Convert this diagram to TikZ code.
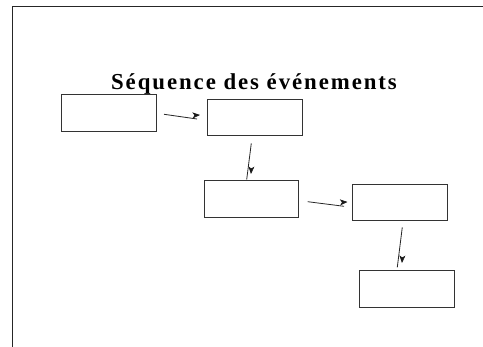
\documentclass[tikz,border=0pt]{standalone}
\usepackage{fontspec}
\setmainfont{Liberation Serif}
\usetikzlibrary{arrows.meta,calc}
\tikzset{
  evbox/.style={draw=black!80, line width=0.8pt, minimum width=95pt, minimum height=37pt, inner sep=0pt, anchor=north west},
  frameline/.style={draw=black!85, line width=1pt},
  conn/.style={draw=black!85, line width=0.8pt},
  tiphead/.style={draw=black!90, line width=0.6pt, -{Stealth[length=7.5pt,width=6pt,inset=2pt]}}
}
\begin{document}
\begin{tikzpicture}[x=1pt,y=-1pt]
\useasboundingbox (0,0) rectangle (483,347);
% frame
\draw[frameline] (482.7,6.7) -- (12,6.7) -- (12,347.5);
% title
\node[anchor=base, inner sep=0pt, font=\fontsize{22.8}{26}\selectfont\bfseries\addfontfeature{LetterSpace=8.5}] (title) at (254,90) {Séquence des événements};
% boxes
\node[evbox] (b1) at (61,94) {};
\node[evbox, minimum height=36pt] (b2) at (207,99) {};
\node[evbox, minimum width=94pt] (b3) at (204,180) {};
\node[evbox, minimum height=36pt] (b4) at (352,184) {};
\node[evbox] (b5) at (359,270) {};
% connector 1
\coordinate (a1s) at (164,114.3);
\coordinate (a1e) at (197,119);
\coordinate (a1t) at (200,115);
\draw[conn] (a1s) -- (a1e);
\draw[tiphead] ($(a1t)+(-2,0.1)$) -- (a1t);
% connector 2
\coordinate (a2s) at (251.3,143.3);
\coordinate (a2e) at (246.7,179.5);
\coordinate (a2t) at (251,174);
\draw[conn] (a2s) -- (a2e);
\draw[tiphead] ($(a2t)+(0.1,-2)$) -- (a2t);
% connector 3
\coordinate (a3s) at (307.7,201.7);
\coordinate (a3e) at (344,206.3);
\coordinate (a3t) at (347.5,202);
\draw[conn] (a3s) -- (a3e);
\draw[tiphead] ($(a3t)+(-2,0.1)$) -- (a3t);
% connector 4
\coordinate (a4s) at (402.3,227.3);
\coordinate (a4e) at (397.3,267.3);
\coordinate (a4t) at (402,263);
\draw[conn] (a4s) -- (a4e);
\draw[tiphead] ($(a4t)+(0.1,-2)$) -- (a4t);
\end{tikzpicture}
\end{document}
